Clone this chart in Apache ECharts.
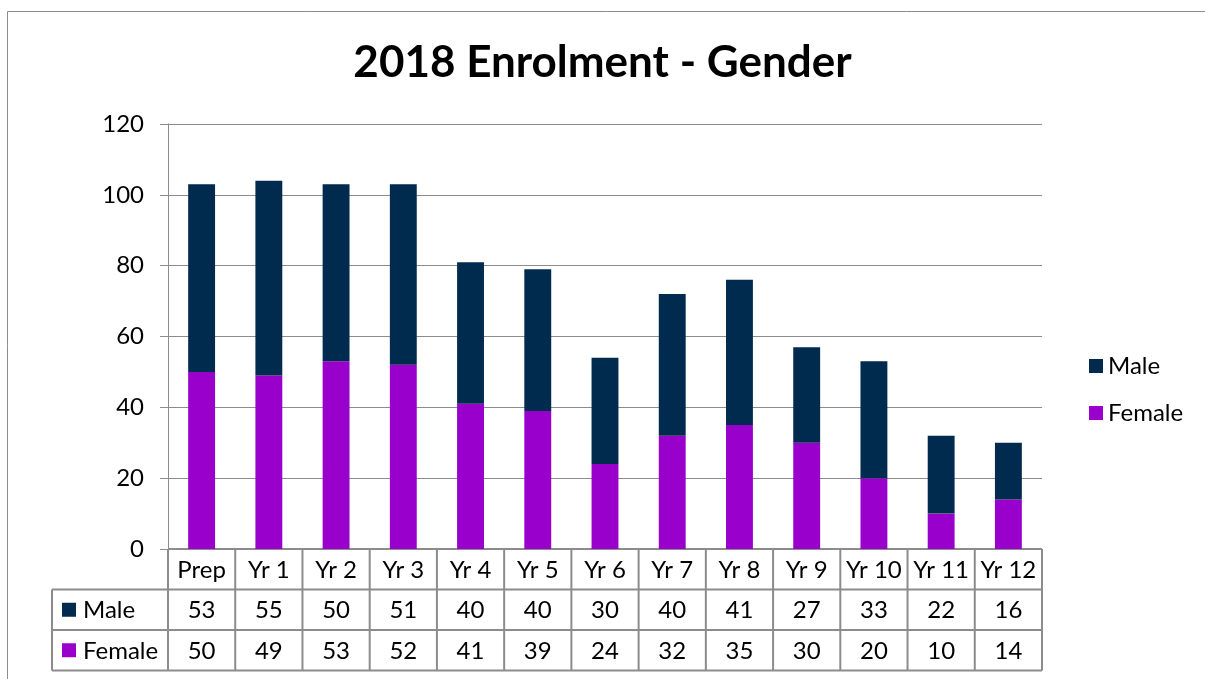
<!DOCTYPE html>
<html>
<head>
<meta charset="utf-8">
<script src="https://cdn.jsdelivr.net/npm/echarts@6/dist/echarts.min.js"></script>
<style>
  html, body { margin: 0; padding: 0; background: #fff; }
  #chart { width: 1205px; height: 679px; }
</style>
</head>
<body>
<div id="chart"></div>
<script>
var categories = ['Prep', 'Yr 1', 'Yr 2', 'Yr 3', 'Yr 4', 'Yr 5', 'Yr 6', 'Yr 7', 'Yr 8', 'Yr 9', 'Yr 10', 'Yr 11', 'Yr 12'];
var maleData = [53, 55, 50, 51, 40, 40, 30, 40, 41, 27, 33, 22, 16];
var femaleData = [50, 49, 53, 52, 41, 39, 24, 32, 35, 30, 20, 10, 14];

var MALE = '#002a4e';
var FEMALE = '#9900cc';
var FONT = 'Lato, "Noto Sans", sans-serif';

// 表格位置
var plotL = 168, plotR = 1042, plotT = 124, plotB = 549;
var rowH = 40.5, tableL = 52;

var chart = echarts.init(document.getElementById('chart'));

var option = {
    backgroundColor: '#fff',
    animation: false,
    title: {
        text: '2018 Enrolment - Gender',
        left: 'center',
        top: 36,
        textStyle: { fontFamily: FONT, fontSize: 44, fontWeight: 'bold', color: '#000' }
    },
    legend: {
        orient: 'vertical',
        left: 1084,
        top: 349,
        icon: 'rect',
        itemWidth: 14,
        itemHeight: 14,
        itemGap: 23,
        data: ['Male', 'Female'],
        textStyle: { fontFamily: FONT, fontSize: 24, color: '#000' }
    },
    grid: { left: plotL, right: 1205 - plotR, top: plotT, bottom: 679 - plotB },
    xAxis: {
        type: 'category',
        data: categories,
        axisLine: { show: false },
        axisTick: { show: false },
        axisLabel: { show: false }
    },
    yAxis: {
        type: 'value',
        min: 0,
        max: 120,
        interval: 20,
        axisLine: { show: true, lineStyle: { color: '#8c8c8c', width: 1 } },
        axisTick: { show: true, length: 8, lineStyle: { color: '#8c8c8c' } },
        axisLabel: { fontFamily: FONT, fontSize: 24, color: '#000', margin: 24 },
        splitLine: { lineStyle: { color: '#8c8c8c', width: 1 } }
    },
    series: [
        {
            name: 'Female',
            type: 'bar',
            stack: 'total',
            barWidth: '40%',
            itemStyle: { color: FEMALE },
            data: femaleData
        },
        {
            name: 'Male',
            type: 'bar',
            stack: 'total',
            barWidth: '40%',
            itemStyle: { color: MALE },
            data: maleData
        }
    ]
};
chart.setOption(option);

// 数据表
function buildTable() {
    var els = [];
    var lineStyle = { stroke: '#8c8c8c', lineWidth: 2 };
    var step = (plotR - plotL) / categories.length;
    // 外框
    els.push({ type: 'rect', shape: { x: 7.5, y: 11.5, width: 1400, height: 1000 },
        style: { fill: 'none', stroke: '#8c8c8c', lineWidth: 1 }, silent: true });
    // 横线
    els.push({ type: 'line', shape: { x1: plotL, y1: plotB, x2: plotR, y2: plotB }, style: lineStyle });
    for (var r = 1; r <= 3; r++) {
        var y = plotB + r * rowH;
        els.push({ type: 'line', shape: { x1: tableL, y1: y, x2: plotR, y2: y }, style: lineStyle });
    }
    // 竖线
    els.push({ type: 'line', shape: { x1: tableL, y1: plotB + rowH, x2: tableL, y2: plotB + 3 * rowH }, style: lineStyle });
    for (var i = 0; i <= categories.length; i++) {
        var x = plotL + i * step;
        els.push({ type: 'line', shape: { x1: x, y1: plotB, x2: x, y2: plotB + 3 * rowH }, style: lineStyle });
    }
    // 文字
    var rows = [categories, maleData, femaleData];
    rows.forEach(function (vals, r) {
        vals.forEach(function (v, i) {
            var cx = chart.convertToPixel({ xAxisIndex: 0 }, categories[i]);
            els.push({ type: 'text', x: cx, y: plotB + r * rowH + rowH / 2 + 1,
                style: { text: String(v), font: '24px ' + FONT, fill: '#000', align: 'center', verticalAlign: 'middle' } });
        });
    });
    // 图例列
    var names = ['Male', 'Female'], cols = [MALE, FEMALE];
    names.forEach(function (n, k) {
        var yc = plotB + (k + 1) * rowH + rowH / 2;
        els.push({ type: 'rect', shape: { x: 62, y: yc - 7, width: 14, height: 14 }, style: { fill: cols[k] } });
        els.push({ type: 'text', x: 83, y: yc + 1,
            style: { text: n, font: '24px ' + FONT, fill: '#000', align: 'left', verticalAlign: 'middle' } });
    });
    chart.setOption({ graphic: { elements: els } });
}
buildTable();
</script>
</body>
</html>
